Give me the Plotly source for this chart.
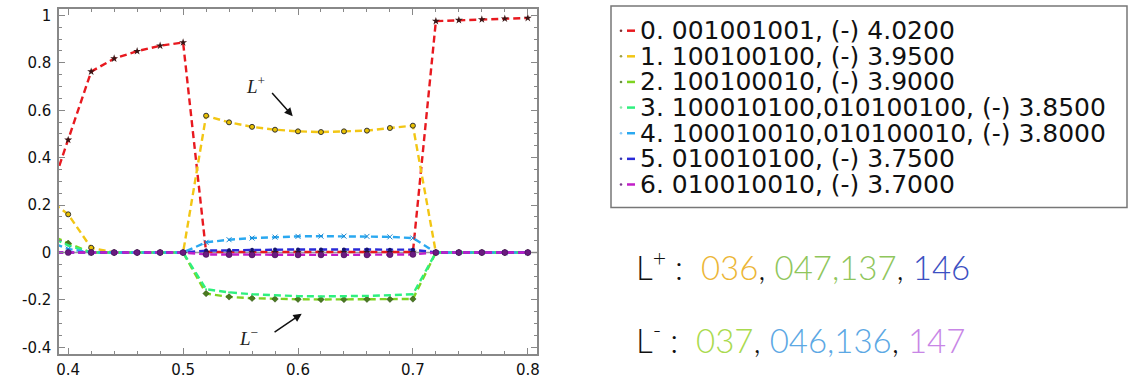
import plotly.graph_objects as go

# ---------------- data ----------------
x_vals = [0.38, 0.40, 0.42, 0.44, 0.46, 0.48, 0.50, 0.52, 0.54, 0.56, 0.58,
          0.60, 0.62, 0.64, 0.66, 0.68, 0.70, 0.72, 0.74, 0.76, 0.78, 0.80]

s0 = [0.19, 0.475, 0.763, 0.818, 0.849, 0.872, 0.886, 0.002, 0.002, 0.002, 0.002,
      0.002, 0.002, 0.002, 0.002, 0.002, 0.002, 0.976, 0.980, 0.983, 0.986, 0.989]
s1 = [0.234, 0.161, 0.02, 0.0, 0.0, 0.0, 0.0, 0.577, 0.549, 0.530, 0.518,
      0.511, 0.508, 0.511, 0.514, 0.525, 0.535, 0.0, 0.0, 0.0, 0.0, 0.0]
s2 = [0.084, 0.039, 0.0, 0.0, 0.0, 0.0, 0.0, -0.173, -0.187, -0.193, -0.196,
      -0.197, -0.198, -0.198, -0.197, -0.197, -0.196, 0.0, 0.0, 0.0, 0.0, 0.0]
s3 = [0.077, 0.03, 0.0, 0.0, 0.0, 0.0, 0.0, -0.155, -0.168, -0.176, -0.181,
      -0.184, -0.185, -0.185, -0.183, -0.180, -0.176, 0.0, 0.0, 0.0, 0.0, 0.0]
s4 = [0.052, 0.015, 0.0, 0.0, 0.0, 0.0, 0.0, 0.043, 0.054, 0.061, 0.065,
      0.068, 0.069, 0.069, 0.068, 0.066, 0.061, 0.0, 0.0, 0.0, 0.0, 0.0]
s5 = [0.0, 0.0, 0.0, 0.0, 0.0, 0.0, 0.0, 0.008, 0.010, 0.012, 0.013,
      0.013, 0.013, 0.013, 0.013, 0.012, 0.012, 0.0, 0.0, 0.0, 0.0, 0.0]
s6 = [0.0, 0.0, 0.0, 0.0, 0.0, 0.0, 0.0, -0.008, -0.009, -0.010, -0.010,
      -0.010, -0.010, -0.010, -0.010, -0.009, -0.008, 0.0, 0.0, 0.0, 0.0, 0.0]

series = [s0, s1, s2, s3, s4, s5, s6]
legend_labels = [
    "0. 001001001, (-) 4.0200",
    "1. 100100100, (-) 3.9500",
    "2. 100100010, (-) 3.9000",
    "3. 100010100,010100100, (-) 3.8500",
    "4. 100010010,010100010, (-) 3.8000",
    "5. 010010100, (-) 3.7500",
    "6. 010010010, (-) 3.7000",
]

x_tickvals = [0.4, 0.5, 0.6, 0.7, 0.8]
x_ticktext = ["0.4", "0.5", "0.6", "0.7", "0.8"]
y_tickvals = [1.0, 0.8, 0.6, 0.4, 0.2, 0.0, -0.2, -0.4]
y_ticktext = ["1", "0.8", "0.6", "0.4", "0.2", "0", "-0.2", "-0.4"]

lplus_parts = [("036", "#ecb636"), ("047,137", "#8fc65c"), ("146", "#3c50c2")]
lminus_parts = [("037", "#a9da4e"), ("046,136", "#5ca8e4"), ("147", "#c886e6")]

# ---------------- styles ----------------
line_colors = ["#e8191f", "#f2c614", "#7ed321", "#2ef07e", "#2aa8f0", "#2a2ad8", "#c21ec8"]
dot_colors = ["#7a3030", "#a0a040", "#6a9040", "#8ae8a8", "#88c8f8", "#3a3aa8", "#7a3a8a"]
markers = [
    dict(symbol="star", size=6, color="#3a1414"),
    dict(symbol="circle", size=5, color="#e8c000", line=dict(color="#333", width=1)),
    dict(symbol="diamond", size=5, color="#4a7a20", line=dict(color="#2a4a10", width=0.5)),
    dict(symbol="circle", size=2, color="#2ef07e"),
    dict(symbol="x-thin-open", size=5, color="#1a88d0", line=dict(color="#1a88d0", width=1)),
    dict(symbol="circle", size=4, color="#14146e"),
    dict(symbol="circle", size=6, color="#6a1a80", line=dict(color="#3a0a4a", width=0.5)),
]

W, H = 1132, 386
ML, MR, MT, MB = 59, 595, 7, 21
PW = W - ML - MR
PH = H - MT - MB


def px(xp):
    return (xp - ML) / PW


def py(yp):
    return (H - MB - yp) / PH


fig = go.Figure()
for i, s in enumerate(series):
    fig.add_trace(go.Scatter(
        x=x_vals, y=s, mode="lines+markers",
        line=dict(color=line_colors[i], width=2.4, dash="7px,4px"),
        marker=markers[i], showlegend=False, cliponaxis=True,
    ))

shapes = []
annotations = []

# legend box
shapes.append(dict(type="rect", xref="paper", yref="paper",
                   x0=px(611), x1=px(1127), y0=py(213), y1=py(4),
                   line=dict(color="#777", width=1.5), fillcolor="white", layer="above"))
row0, dy = 29.5, 26.6
for i, lab in enumerate(legend_labels):
    yc = row0 + i * dy
    shapes.append(dict(type="line", xref="paper", yref="paper",
                       x0=px(627), x1=px(635), y0=py(yc), y1=py(yc),
                       line=dict(color=line_colors[i], width=2.5), layer="above"))
    shapes.append(dict(type="circle", xref="paper", yref="paper",
                       x0=px(619.7), x1=px(622.3), y0=py(yc + 1.3), y1=py(yc - 1.3),
                       line=dict(width=0), fillcolor=dot_colors[i], layer="above"))
    annotations.append(dict(xref="paper", yref="paper", x=px(638), y=py(yc),
                            xanchor="left", yanchor="middle", text=lab, showarrow=False,
                            font=dict(family="DejaVu Sans", size=25, color="#111")))

# L+ / L- arrows in the plot
annotations.append(dict(xref="x", yref="y", x=0.5954, y=0.575, ax=0.5763, ay=0.679,
                        axref="x", ayref="y", text="", showarrow=True,
                        arrowhead=2, arrowsize=1.1, arrowwidth=1.5, arrowcolor="#111"))
annotations.append(dict(xref="x", yref="y", x=0.5626, y=0.706, text="<i>L</i><sup>+</sup>",
                        showarrow=False, font=dict(family="Liberation Serif", size=19, color="#222")))
annotations.append(dict(xref="x", yref="y", x=0.6032, y=-0.258, ax=0.5783, ay=-0.34,
                        axref="x", ayref="y", text="", showarrow=True,
                        arrowhead=2, arrowsize=1.1, arrowwidth=1.5, arrowcolor="#111"))
annotations.append(dict(xref="x", yref="y", x=0.5565, y=-0.356, text="<i>L</i><sup>\u2212</sup>",
                        showarrow=False, font=dict(family="Liberation Serif", size=19, color="#222")))


def build(sign, parts):
    t = '<span style="color:#111">L<sup>' + sign + '</sup> :  </span>'
    chunks = []
    for txt, col in parts:
        chunks.append('<span style="color:%s">%s</span>' % (col, txt))
    return t + '<span style="color:#111">, </span>'.join(chunks)


annotations.append(dict(xref="paper", yref="paper", x=px(634), y=py(273), xanchor="left",
                        yanchor="middle", text=build("+", lplus_parts), showarrow=False,
                        font=dict(family="Lato", size=33, color="#111", weight=300)))
annotations.append(dict(xref="paper", yref="paper", x=px(634), y=py(348), xanchor="left",
                        yanchor="middle", text=build("-", lminus_parts), showarrow=False,
                        font=dict(family="Lato", size=33, color="#111", weight=300)))

axis_common = dict(showline=True, linecolor="#888", linewidth=1.5, mirror="allticks",
                   ticks="inside", ticklen=6, tickcolor="#888", tickwidth=1,
                   showgrid=False, zeroline=False,
                   tickfont=dict(family="DejaVu Sans", size=15, color="#111"))

fig.update_layout(
    width=W, height=H,
    margin=dict(l=ML, r=MR, t=MT, b=MB),
    paper_bgcolor="white", plot_bgcolor="white",
    xaxis=dict(range=[0.392, 0.808], tickvals=x_tickvals, ticktext=x_ticktext,
               minor=dict(ticks="inside", dtick=0.02, tick0=0.4, ticklen=3, tickcolor="#888"),
               ticklabelstandoff=1, **axis_common),
    yaxis=dict(range=[-0.428, 1.027], tickvals=y_tickvals, ticktext=y_ticktext,
               minor=dict(ticks="inside", dtick=0.05, tick0=0, ticklen=3, tickcolor="#888"),
               ticklabelstandoff=3, **axis_common),
    shapes=shapes, annotations=annotations,
)

# zero reference line
fig.add_hline(y=0, line=dict(color="#999", width=1.5), layer="below")

fig.write_html("out.html")
